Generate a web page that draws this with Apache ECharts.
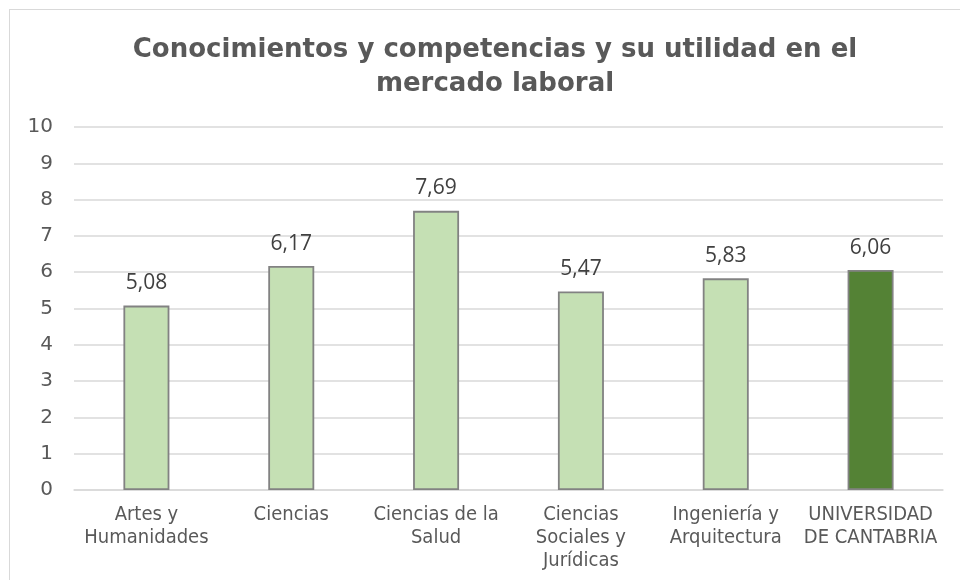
<!DOCTYPE html>
<html>
<head>
<meta charset="utf-8">
<script src="https://cdn.jsdelivr.net/npm/echarts@6/dist/echarts.min.js"></script>
<style>
  html, body { margin: 0; padding: 0; background: #fff; }
  #frame { position: absolute; left: 9px; top: 9px; width: 960px; height: 580px; border: 1px solid #d9d9d9; box-sizing: border-box; }
  #chart { position: absolute; left: 0; top: 0; width: 960px; height: 580px; }
</style>
</head>
<body>
<div id="frame"></div>
<div id="chart"></div>
<script>
// datos
const categories = ['Artes y\nHumanidades', 'Ciencias', 'Ciencias de la\nSalud', 'Ciencias\nSociales y\nJurídicas', 'Ingeniería y\nArquitectura', 'UNIVERSIDAD\nDE CANTABRIA']
const values = [5.08, 6.17, 7.69, 5.47, 5.83, 6.06]
const highlight = [false, false, false, false, false, true]

const textColor = '#595959'
const chart = echarts.init(document.getElementById('chart'))

const option = {
  animation: false,
  title: {
    text: 'Conocimientos y competencias y su utilidad en el\nmercado laboral',
    left: 490,
    textAlign: 'center',
    top: 28,
    textStyle: {
      fontFamily: 'DejaVu Sans',
      fontWeight: 'bold',
      fontSize: 26,
      lineHeight: 34,
      color: textColor
    }
  },
  grid: { left: 74, right: 17, top: 127, bottom: 90 },
  xAxis: {
    type: 'category',
    data: categories,
    axisLine: { lineStyle: { color: '#d9d9d9', width: 1.5 } },
    axisTick: { show: false },
    axisLabel: {
      interval: 0,
      margin: 13,
      fontFamily: 'DejaVu Sans Condensed',
      fontSize: 20,
      lineHeight: 23,
      color: textColor
    }
  },
  yAxis: {
    type: 'value',
    min: 0,
    max: 10,
    interval: 1,
    axisLine: { show: false },
    axisTick: { show: false },
    splitLine: { lineStyle: { color: '#d9d9d9', width: 1.5 } },
    axisLabel: {
      margin: 21,
      fontFamily: 'DejaVu Sans',
      fontSize: 20,
      color: textColor
    }
  },
  series: [{
    type: 'bar',
    barWidth: 46,
    data: values.map((v, i) => ({
      value: v,
      itemStyle: {
        color: highlight[i] ? '#548235' : '#c5e0b4',
        borderColor: '#828282',
        borderWidth: 1.8
      }
    })),
    label: {
      show: true,
      position: 'top',
      distance: 12,
      fontFamily: 'Open Sans',
      fontSize: 21,
      color: '#404040',
      formatter: p => p.value.toFixed(2).replace('.', ',')
    }
  }]
}
chart.setOption(option)
</script>
</body>
</html>
